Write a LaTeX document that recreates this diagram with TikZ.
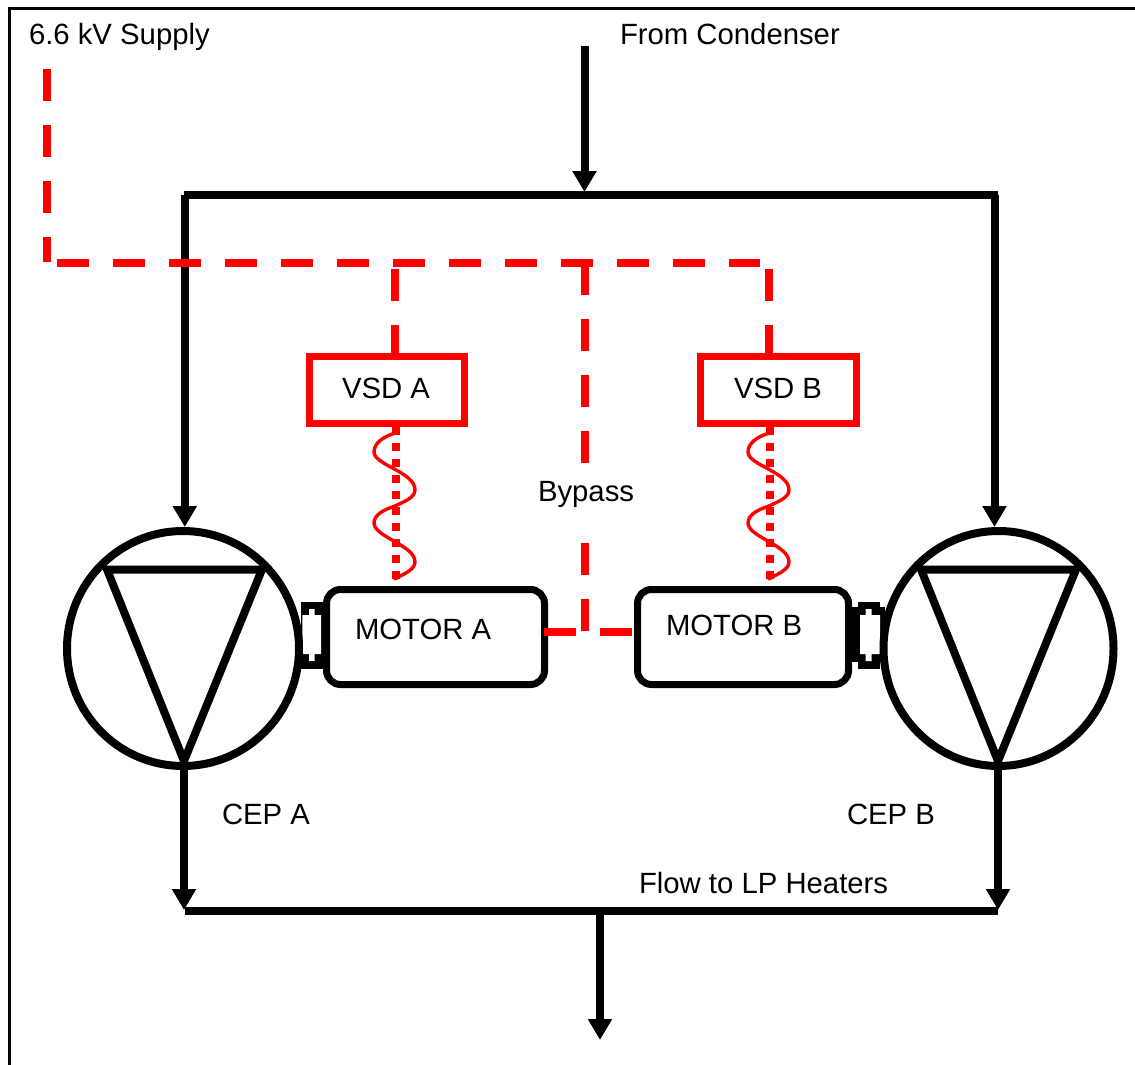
\documentclass[tikz,border=0pt]{standalone}
\usepackage{fontspec}
\setmainfont{Liberation Sans}
\usetikzlibrary{arrows.meta,shapes.geometric}
\tikzset{
  lbl/.style={anchor=base west,inner sep=0pt,outer sep=0pt,font=\fontsize{29.3}{32}\selectfont,text=black},
  pipe/.style={draw=black,line width=8pt},
  flow/.style={pipe,-{Triangle[length=21pt,width=23pt]}},
  pump/.style={ellipse,draw=black,line width=8pt,inner sep=0pt,outer sep=0pt,minimum height=235pt},
  tri/.style={draw=black,line width=8pt,line join=miter},
  motorbox/.style={rectangle,draw=black,line width=7pt,rounded corners=14pt,minimum height=95pt,inner sep=0pt,outer sep=0pt},
  vsdbox/.style={rectangle,draw=red,line width=7pt,minimum height=67pt,inner sep=0pt,outer sep=0pt},
  hv/.style={draw=red,line width=8pt,dash pattern=on 32pt off 24pt},
  hvbypass/.style={draw=red,line width=8pt,dash pattern=on 32pt off 24pt on 32pt off 24pt on 32pt off 24pt on 32pt off 80pt on 32pt off 24pt on 32pt off 24pt},
  hvdot/.style={draw=red,line width=8pt,dash pattern=on 8pt off 8pt},
  wave/.style={draw=red,line width=3.4pt,line cap=round},
}
\begin{document}
\begin{tikzpicture}[x=1pt,y=-1pt]
\useasboundingbox (0,0) rectangle (1135,1065);
\fill[white] (0,0) rectangle (1135,1065);
\draw[black,line width=3pt] (9.7,1065) -- (9.7,8.3) -- (1135,8.3);
% couplings
\fill[black] (301,602) rectangle (323,669);
\fill[white] (302.3,615) -- (309,615) -- (309,609) -- (314.5,609) -- (314.5,615) -- (321,615) -- (321,654) -- (314.5,654) -- (314.5,661) -- (309,661) -- (309,654) -- (302.3,654) -- cycle;
\fill[black] (852,607) rectangle (885,662);
\fill[black] (858,602) rectangle (880,669);
\fill[white] (860,615) -- (865.7,615) -- (865.7,609) -- (871.7,609) -- (871.7,615) -- (880,615) -- (880,654) -- (871.7,654) -- (871.7,661) -- (865.7,661) -- (865.7,654) -- (860,654) -- cycle;
% pumps
\node[pump,minimum width=232pt] (pumpA) at (183,648.5) {};
\node[pump,minimum width=230pt] (pumpB) at (998.5,648.5) {};
\draw[tri] (107,569.5) -- (262,569.5) -- (184,761) -- cycle;
\draw[tri] (921,569.5) -- (1076,569.5) -- (998,761) -- cycle;
% motors
\node[motorbox,minimum width=218pt] (motorA) at (435.5,637) {};
\node[motorbox,minimum width=211pt] (motorB) at (743,637) {};
% vsds
\node[vsdbox,minimum width=155pt] (vsdA) at (387,390) {};
\node[vsdbox,minimum width=156pt] (vsdB) at (778.5,390) {};
% coordinates
\coordinate (cond) at (584.5,46);
\coordinate (topm) at (584.5,192);
\coordinate (hl) at (184.3,194.5);
\coordinate (hr) at (997.5,194.5);
\coordinate (topl) at (184.8,195);
\coordinate (topr) at (994.5,195);
\coordinate (inB) at (994.5,527);
\coordinate (inA) at (184.8,527);
\coordinate (outA) at (184,766);
\coordinate (outB) at (998,766);
\coordinate (dnA) at (184,910);
\coordinate (dnB) at (998,910);
\coordinate (hdl) at (185,910.5);
\coordinate (hdr) at (998,910.5);
\coordinate (hdm) at (600,910.5);
\coordinate (outl) at (600,1040);
\coordinate (sup) at (46.5,69);
\coordinate (corner) at (46.5,262);
\coordinate (busl) at (57,262.5);
\coordinate (busr) at (760,262.5);
\coordinate (tapA) at (395,269);
\coordinate (tapB) at (768.7,269);
\coordinate (tapC) at (584.7,263);
\coordinate (vsdAt) at (395,353);
\coordinate (vsdBt) at (768.7,353);
\coordinate (byp) at (584.7,631);
\coordinate (mAr) at (544,631.5);
\coordinate (mBl) at (632,631.5);
\coordinate (vAb) at (395.5,427);
\coordinate (vBb) at (769.5,427);
\coordinate (mAt) at (395.5,579);
\coordinate (mBt) at (769.5,579);
% flow pipes
\draw[flow] (cond) -- (topm);
\draw[pipe] (hl) -- (hr);
\draw[flow] (topl) -- (inA);
\draw[flow] (topr) -- (inB);
\draw[flow] (outA) -- (dnA);
\draw[flow] (outB) -- (dnB);
\draw[pipe] (hdl) -- (hdr);
\draw[flow] (hdm) -- (outl);
% supply
\draw[hv] (sup) -- (corner);
\draw[hv] (busl) -- (busr);
\draw[hv] (tapB) -- (vsdBt);
\draw[hv] (tapA) -- (vsdAt);
\draw[hvbypass] (tapC) -- (byp);
\draw[hv] (mAr) -- (mBl);
% VSD output
\draw[hvdot] (vAb) -- (mAt);
\draw[hvdot] (vBb) -- (mBt);
\foreach \cx in {395,769}{
\draw[wave] (\cx,433) .. controls (\cx-12,437) and (\cx-21,443) .. (\cx-21,452)
  .. controls (\cx-21,465) and (\cx+20,472) .. (\cx+20,490)
  .. controls (\cx+20,498) and (\cx+8,502) .. (\cx,506)
  .. controls (\cx-12,510) and (\cx-21,515) .. (\cx-21,523)
  .. controls (\cx-21,537) and (\cx+20,545) .. (\cx+20,562)
  .. controls (\cx+20,570) and (\cx+8,574) .. (\cx,579);
}
% labels
\node[lbl] (t1) at (29,45) {6.6 kV Supply};
\node[lbl] (t2) at (620,45) {From Condenser};
\node[lbl] (t3) at (342,398) {VSD A};
\node[lbl] (t4) at (734,398) {VSD B};
\node[lbl] (t5) at (538,501) {Bypass};
\node[lbl] (t6) at (355,639) {MOTOR A};
\node[lbl] (t7) at (666,635) {MOTOR B};
\node[lbl] (t8) at (222,824) {CEP A};
\node[lbl] (t9) at (847,824) {CEP B};
\node[lbl] (t10) at (639,893) {Flow to LP Heaters};
\end{tikzpicture}
\end{document}
